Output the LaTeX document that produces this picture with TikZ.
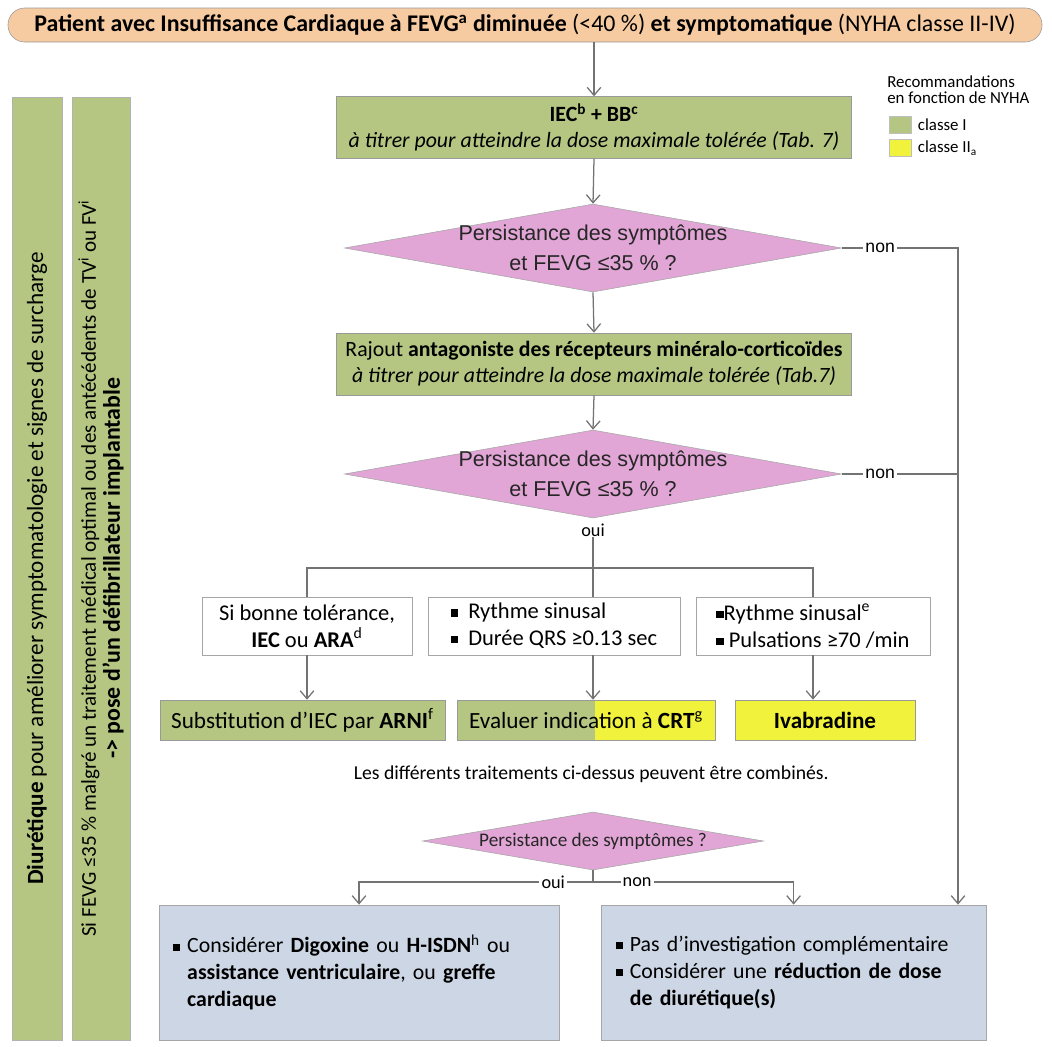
\documentclass[tikz,border=0pt]{standalone}
\usepackage{fontspec}
\setmainfont{Carlito}
\newfontfamily\arialf{Liberation Sans}
\usepackage{tikz}
\usetikzlibrary{shapes.geometric, arrows.meta, positioning, calc}
\usepackage{xcolor}
\definecolor{vert}{RGB}{180,198,130}
\definecolor{jaune}{RGB}{240,242,60}
\definecolor{rose}{RGB}{226,166,214}
\definecolor{bleu}{RGB}{205,214,228}
\definecolor{beige}{RGB}{247,203,162}
\newcommand{\carre}{\rule[0.22ex]{0.32em}{0.32em}}

\begin{document}
\begin{tikzpicture}[
        titre/.style={rectangle, draw=black!40, fill=beige, rounded corners=0.42cm, minimum width=25.85cm, minimum height=0.85cm, font=\fontsize{17}{19}\selectfont},
        vbox/.style={rectangle, draw=black!40, fill=vert, minimum width=12.875cm, minimum height=1.55cm, align=center, font=\fontsize{15.5}{18.5}\selectfont},
        rbox/.style={rectangle, draw=black!40, fill=vert, minimum height=1.0cm, font=\fontsize{16.5}{18}\selectfont},
        qdiam/.style={diamond, draw=black!35, fill=rose, inner sep=0pt, minimum width=12.425cm, minimum height=2.2cm},
        qtxt/.style={align=center, text=black!85, font=\arialf\fontsize{15.3}{21}\selectfont},
        tbox/.style={rectangle, draw=black!35, fill=white, minimum height=1.45cm, font=\fontsize{16}{19}\selectfont},
        bbox/.style={rectangle, draw=black!35, fill=bleu, minimum height=3.375cm, align=left, font=\fontsize{15.5}{19}\selectfont},
        barre/.style={rectangle, draw=black!30, fill=vert, minimum width=23.575cm, rotate=90, align=center, font=\fontsize{15}{17}\selectfont},
        leg/.style={inner sep=0pt, font=\fontsize{12}{11}\selectfont},
        fleche/.style={draw=black!55, line width=0.9pt, -{Straight Barb[length=2mm, width=3.4mm]}},
        ligne/.style={draw=black!55, line width=0.9pt},
        lab/.style={fill=white, inner sep=1.5pt, font=\fontsize{13}{14}\selectfont}
    ]
        \useasboundingbox (0,0) rectangle (26.3,-26.15);

        % Point de départ
        \node [titre] (patient) at (13.125, -0.625) {\textbf{Patient avec Insuffisance Cardiaque à FEVG\textsuperscript{a} diminuée} (<40 \%) \textbf{et symptomatique} (NYHA classe II-IV)};

        % Colonne principale
        \node [vbox] (iec) at (14.85, -3.19) {\textbf{IEC\textsuperscript{b} + BB\textsuperscript{c}}\\\textit{à titrer pour atteindre la dose maximale tolérée (Tab. 7)}};
        \node [qdiam] (d1) at (14.825, -6.2) {};
        \node [qtxt] (d1t) at (d1) {Persistance des symptômes\\et FEVG ≤35 \% ?};
        \node [vbox] (mra) at (14.85, -9.1) {Rajout \textbf{antagoniste des récepteurs minéralo-corticoïdes}\\\textit{à titrer pour atteindre la dose maximale tolérée (Tab.7)}};
        \node [qdiam] (d2) at (14.825, -11.85) {};
        \node [qtxt] (d2t) at (d2) {Persistance des symptômes\\et FEVG ≤35 \% ?};
        \node [lab, inner sep=0pt] (oui1) at (14.825, -13.25) {oui};

        % Légende NYHA
        \node [leg, anchor=north west, align=left] (legt) at (22.175, -1.9) {Recommandations\\en fonction de NYHA};
        \node [rectangle, draw=black!25, fill=vert, minimum width=0.55cm, minimum height=0.42cm, inner sep=0pt] (legv) at (22.51, -3.12) {};
        \node [leg, right=0.15cm of legv] (legvt) {classe I};
        \node [rectangle, draw=black!25, fill=jaune, minimum width=0.55cm, minimum height=0.42cm, inner sep=0pt] (legj) at (22.51, -3.7) {};
        \node [leg, right=0.15cm of legj] (legjt) {classe II\textsubscript{a}};

        % Conditions
        \coordinate (br) at (14.825, -14.2);
        \node [tbox, minimum width=5.25cm, align=center] (ta) at (7.675, -15.65) {Si bonne tolérance,\\\textbf{IEC} ou \textbf{ARA}\textsuperscript{d}};
        \node [tbox, minimum width=6.3cm, align=left] (tb) at (13.85, -15.65) {\carre\ \ Rythme sinusal\\\carre\ \ Durée QRS ≥0.13 sec};
        \node [tbox, minimum width=5.85cm, align=left] (tc) at (20.325, -15.65) {\carre Rythme sinusal\textsuperscript{e}\\\carre\ Pulsations ≥70 /min};

        % Traitements
        \node [rbox, minimum width=7.125cm] (arni) at (7.56, -18.0) {Substitution d’IEC par \textbf{ARNI}\textsuperscript{f}};
        \node [rbox, minimum width=6.45cm, path picture={\fill [jaune] ($(path picture bounding box.north west)+(3.45, 0)$) rectangle (path picture bounding box.south east);}] (crt) at (14.65, -18.0) {Evaluer indication à \textbf{CRT}\textsuperscript{g}};
        \node [rbox, fill=jaune, minimum width=4.5cm] (ivab) at (20.625, -18.0) {\textbf{Ivabradine}};
        \node [font=\fontsize{14}{15}\selectfont] (combi) at (14.78, -19.35) {Les différents traitements ci-dessus peuvent être combinés.};

        % Dernière question et issues
        \node [qdiam, minimum width=8.525cm, minimum height=1.45cm] (d3) at (14.825, -21.025) {};
        \node [text=black!85, font=\fontsize{13.7}{15}\selectfont] (d3t) at (d3) {Persistance des symptômes ?};
        \coordinate (fourche) at (14.825, -22.05);
        \coordinate (rail) at (23.95, 0);
        \node [bbox, minimum width=10cm, text width=9.3cm] (bg) at (8.975, -24.31) {\carre\ Considérer \textbf{Digoxine} ou \textbf{H-ISDN}\textsuperscript{h} ou\\\phantom{\carre\ }\textbf{assistance ventriculaire}, ou \textbf{greffe}\\\phantom{\carre\ }\textbf{cardiaque}};
        \node [bbox, minimum width=9.625cm, text width=8.9cm] (bd) at (19.84, -24.31) {\carre\ Pas d’investigation complémentaire\\\carre\ Considérer une \textbf{réduction de dose}\\\phantom{\carre\ }\textbf{de diurétique(s)}};

        % Bandes latérales
        \node [barre, minimum height=1.25cm, font=\fontsize{16.5}{17}\selectfont] (diur) at (0.925, -14.21) {\textbf{Diurétique} pour améliorer symptomatologie et signes de surcharge};
        \node [barre, minimum height=1.45cm] (dai) at (2.525, -14.21) {Si FEVG ≤35 \% malgré un traitement médical optimal ou des antécédents de TV\textsuperscript{i} ou FV\textsuperscript{i}\\\fontsize{17}{17}\selectfont\textbf{-> pose d’un défibrillateur implantable}};

        % Flèches de la colonne principale
        \draw [fleche] (patient.south -| iec.north) -- (iec.north);
        \draw [fleche] (iec.south) -- (d1.north);
        \draw [fleche] (d1.south) -- (mra.north);
        \draw [fleche] (mra.south) -- (d2.north);
        \draw [fleche] (d1.east) -- node[lab, pos=0.33, font=\arialf\fontsize{12.5}{14}\selectfont] {non} (d1.east -| rail) -- (rail |- bd.north);
        \draw [ligne] (d2.east) -- node[lab, pos=0.33, font=\arialf\fontsize{12.5}{14}\selectfont] {non} (d2.east -| rail);

        % Embranchement vers les conditions
        \draw [ligne] (oui1.south) -- (tb.north -| br);
        \draw [ligne] (ta.north) -- (ta.north |- br) -- (tc.north |- br) -- (tc.north);
        \draw [fleche] (ta.south) -- (ta.south |- arni.north);
        \draw [fleche] (tb.south -| br) -- (crt.north -| br);
        \draw [fleche] (tc.south) -- (tc.south |- ivab.north);

        % Issues finales
        \draw [ligne] (d3.south) -- (fourche);
        \draw [fleche] (fourche) -- node[lab, pos=0.17] {oui} (fourche -| bg.north) -- (bg.north);
        \draw [fleche] (fourche) -- node[lab, pos=0.22] {non} (fourche -| bd.north) -- (bd.north);
    \end{tikzpicture}
\end{document}
